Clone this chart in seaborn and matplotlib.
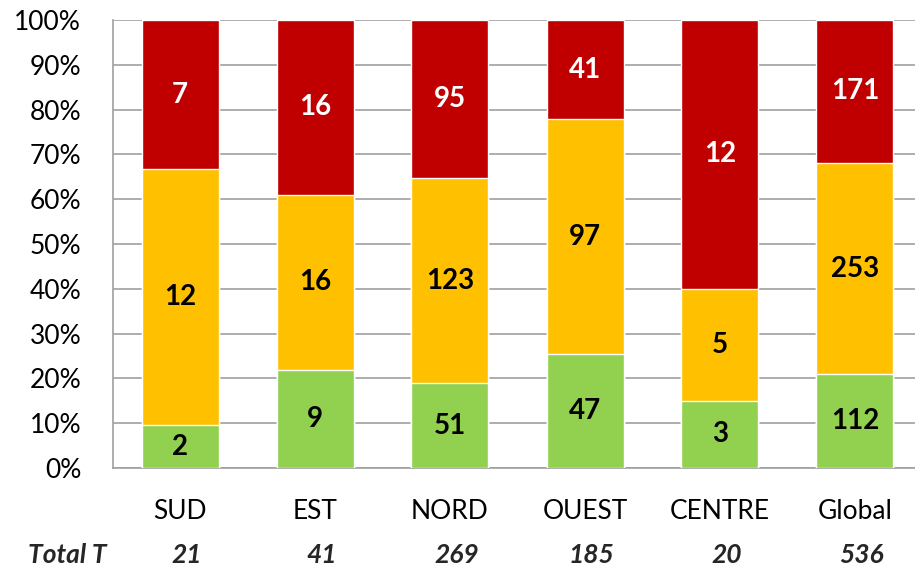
import numpy as np
import pandas as pd
import seaborn as sns
import matplotlib.pyplot as plt
import matplotlib.transforms as mtransforms
from matplotlib.ticker import FixedLocator, PercentFormatter

regions = ['SUD', 'EST', 'NORD', 'OUEST', 'CENTRE', 'Global']
green = [2, 9, 51, 47, 3, 112]
orange = [12, 16, 123, 97, 5, 253]
red = [7, 16, 95, 41, 12, 171]
totals = [21, 41, 269, 185, 20, 536]

c_green = '#92D050'
c_orange = '#FFC000'
c_red = '#C00000'
c_grid = '#A0A0A0'

sns.set_theme(style="white")
plt.rcParams['font.family'] = ['Lato', 'DejaVu Sans']

df = pd.DataFrame({'region': regions, 'green': green, 'orange': orange,
                   'red': red, 'total': totals})
df['g_top'] = df.green / df.total * 100
df['o_top'] = (df.green + df.orange) / df.total * 100
df['r_top'] = (df.green + df.orange + df.red) / df.total * 100

fig = plt.figure(figsize=(9.15, 5.69), dpi=100)
ax = fig.add_axes([112.5 / 915, 101 / 569, 810 / 915, 448 / 569])

width = 77 / 135
# stacked by overdrawing cumulative heights
sns.barplot(data=df, x='region', y='r_top', color=c_red, width=width,
            saturation=1, ax=ax, zorder=2)
sns.barplot(data=df, x='region', y='o_top', color=c_orange, width=width,
            saturation=1, ax=ax, zorder=3)
sns.barplot(data=df, x='region', y='g_top', color=c_green, width=width,
            saturation=1, ax=ax, zorder=4)

for i, row in df.iterrows():
    ax.text(i, row.g_top / 2, str(row.green), ha='center', va='center',
            fontsize=20, fontweight='bold', color='black', zorder=5)
    ax.text(i, (row.g_top + row.o_top) / 2, str(row.orange), ha='center',
            va='center', fontsize=20, fontweight='bold', color='black', zorder=5)
    ax.text(i, (row.o_top + row.r_top) / 2, str(row.red), ha='center',
            va='center', fontsize=20, fontweight='bold', color='white', zorder=5)

ax.set_xlim(-0.5, 5.5)
ax.set_ylim(0, 100)
ax.yaxis.set_major_locator(FixedLocator(np.arange(0, 101, 10)))
ax.yaxis.set_major_formatter(PercentFormatter(decimals=0))
ax.grid(axis='y', color=c_grid, linewidth=1.2, zorder=0)
ax.set_axisbelow(True)

ax.xaxis.set_minor_locator(FixedLocator(np.arange(-0.5, 5.6, 1)))
ax.tick_params(axis='x', which='major', length=0, pad=22, labelsize=19,
               colors='black')
ax.tick_params(axis='x', which='minor', length=7.5, width=1.2,
               color=c_grid, direction='out')
ax.tick_params(axis='y', which='major', length=7.5, width=1.2, color=c_grid,
               direction='out', pad=15, labelsize=19, labelcolor='black')
ax.tick_params(axis='x', labelcolor='black')

for side in ['top', 'right']:
    ax.spines[side].set_visible(False)
for side in ['left', 'bottom']:
    ax.spines[side].set_color(c_grid)
    ax.spines[side].set_linewidth(1.2)

ax.set_xlabel('')
ax.set_ylabel('')

# "Total T" row under the category labels
trans = mtransforms.blended_transform_factory(ax.transData, fig.transFigure)
fig.text(28 / 915, 14 / 569, 'Total T', ha='left', va='center', fontsize=19,
         fontweight='bold', fontstyle='italic')
for i, t in enumerate(totals):
    ax.text(i + 0.05, 14 / 569, str(t), transform=trans, ha='center',
            va='center', fontsize=19, fontweight='bold', fontstyle='italic')

fig.savefig('out.png', dpi=100)
